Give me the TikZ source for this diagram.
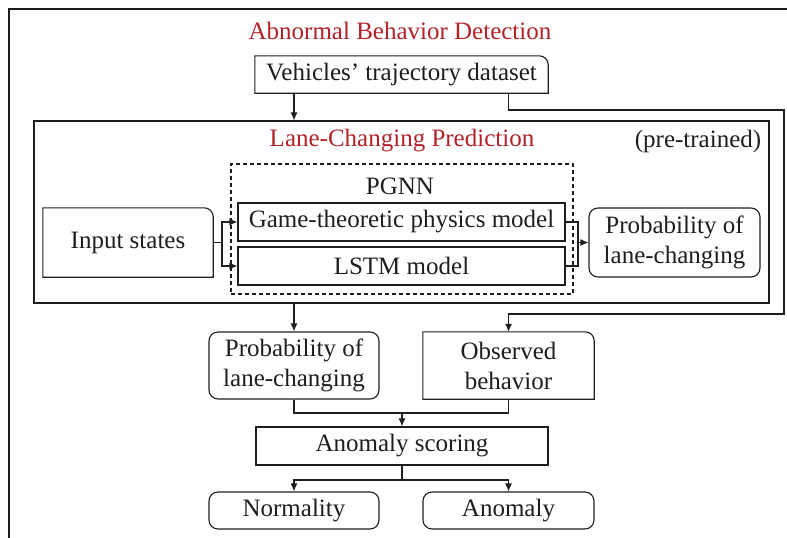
\documentclass[tikz,border=0pt]{standalone}
\usepackage{fontspec}
\setmainfont{Liberation Serif}
\usetikzlibrary{arrows.meta,calc}
\definecolor{titlered}{RGB}{178,34,40}
\definecolor{ink}{RGB}{30,30,30}
\begin{document}
\begin{tikzpicture}[x=1pt,y=-1pt,
  every node/.style={font=\fontsize{25}{30}\selectfont, text=ink, inner sep=0pt, align=center},
  plainbox/.style={draw=ink, line width=1.1pt, rectangle},
  roundbox/.style={draw=ink, line width=1.1pt, rectangle, rounded corners=9pt},
  cornerbox/.style={rectangle},
  link/.style={draw=ink, line width=1.1pt},
  arr/.style={link, -{Latex[length=8pt,width=7pt]}},
  titletext/.style={text=titlered}
]
\useasboundingbox (0,0) rectangle (787,538);
% outer frame (only top and left edges are inside the picture)
\draw[ink, line width=1.1pt] (9,545) -- (9,9) -- (800,9);

\node[titletext] (title) at (400,31) {Abnormal Behavior Detection};
\node[cornerbox, minimum width=293pt, minimum height=37pt] (veh) at (401.5,74.5) {Vehicles' trajectory dataset};

% inner frame
\node[plainbox, minimum width=735pt, minimum height=182pt] (lcp) at (401.5,212) {};
\node[titletext] (lcptitle) at (402,141) {Lane-Changing Prediction};
\node (pre) at (698,141) {(pre-trained)};

% PGNN dashed group
\node[draw=ink, line width=1.1pt, dashed, dash pattern=on 4pt off 3pt, minimum width=342pt, minimum height=130pt] (pgnn) at (402,229) {};
\node (pgnnlabel) at (400,186) {PGNN};
\node[plainbox, minimum width=327pt, minimum height=38pt] (game) at (401.5,222) {Game-theoretic physics model};
\node[plainbox, minimum width=327pt, minimum height=38pt] (lstm) at (401.5,266) {LSTM model};

\node[cornerbox, minimum width=170pt, minimum height=69pt] (inp) at (128,242.5) {Input states};
\node[roundbox, minimum width=171pt, minimum height=69pt] (probR) at (674.5,242.5) {Probability of\\lane-changing};

\node[roundbox, minimum width=170pt, minimum height=67pt] (probB) at (294,365.5) {Probability of\\lane-changing};
\node[cornerbox, minimum width=171pt, minimum height=67pt] (obs) at (508.5,365.5) {Observed\\behavior};

\node[plainbox, minimum width=292pt, minimum height=38pt] (score) at (402,446) {Anomaly scoring};
\node[roundbox, minimum width=170pt, minimum height=37pt] (norm) at (294,510.5) {Normality};
\node[roundbox, minimum width=171pt, minimum height=37pt] (anom) at (508.5,510.5) {Anomaly};

% boxes with only the top-right corner rounded
\foreach \n in {veh,inp,obs}{
  \draw[ink, line width=1.1pt] (\n.south west) -- (\n.north west) -- ([xshift=-9pt]\n.north east)
    arc[start angle=90, end angle=0, radius=9pt] -- (\n.south east) -- cycle;
}

% connectors
\draw[arr] (veh.south -| probB.north) -- (lcp.north -| probB.north);
\coordinate (rt1) at (784,110);
\coordinate (rt2) at (784,314);
\draw[arr] (veh.south -| obs.north) |- (rt1) -- (rt2) -| (obs.north);

\coordinate (sp) at (222,242.5);
\draw[link] (inp.east) -- (sp);
\draw[arr] (sp) |- (game.west);
\draw[arr] (sp) |- (lstm.west);

\coordinate (mp) at (578,243);
\draw[link] (game.east) -| (mp |- lstm.east) -- (lstm.east);
\draw[arr] (probR.west -| mp) -- (probR.west);

\draw[arr] (lcp.south -| probB.north) -- (probB.north);

\coordinate (j1) at (402,413);
\draw[link] (probB.south) |- (j1) -| (obs.south);
\draw[arr] (j1) -- (score.north);

\coordinate (j2) at (402,480);
\draw[link] (score.south) -- (j2);
\draw[arr] (j2) -| (norm.north);
\draw[arr] (j2) -| (anom.north);
\end{tikzpicture}
\end{document}
